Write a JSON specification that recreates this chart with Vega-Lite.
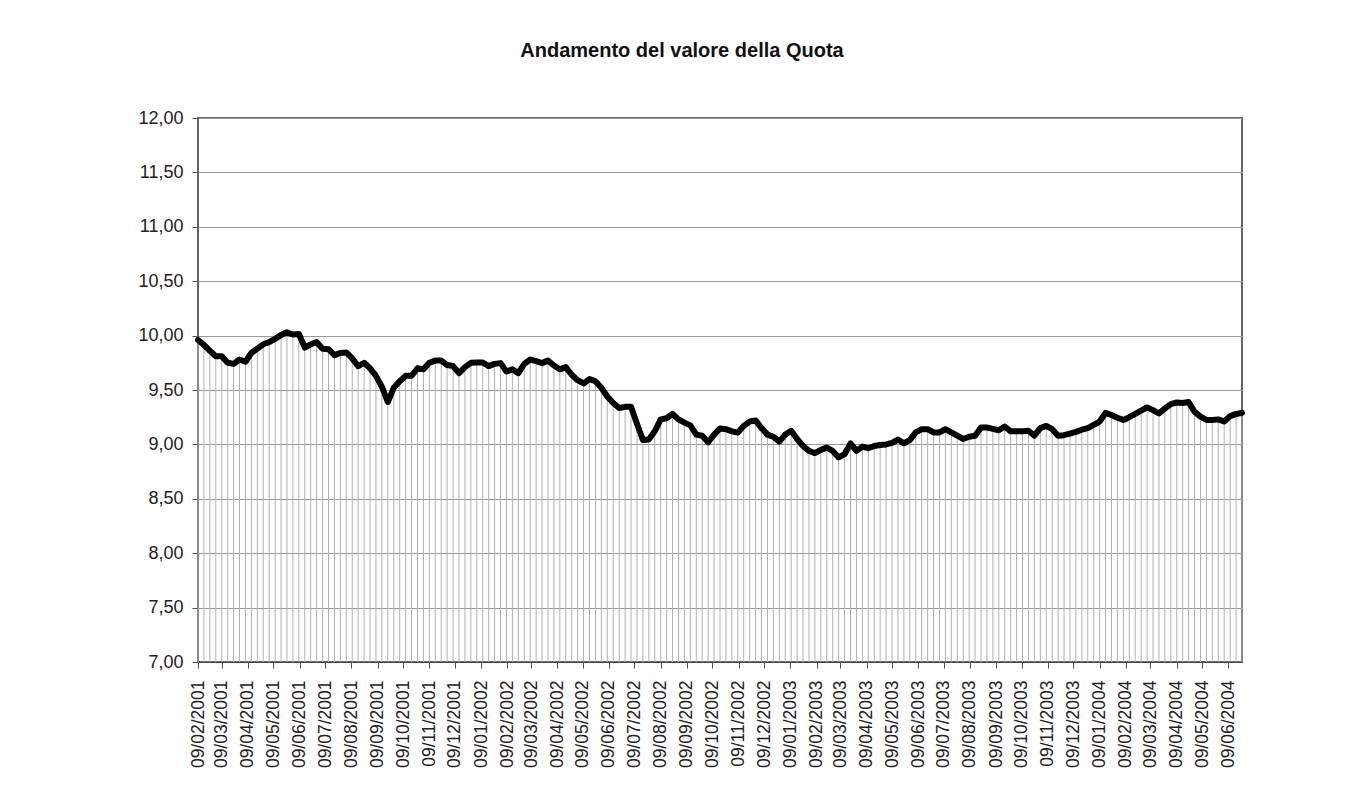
{
  "$schema": "https://vega.github.io/schema/vega-lite/v6.json",
  "autosize": {"type": "none"},
  "padding": {"left": 198, "top": 118, "right": 116, "bottom": 133},
  "width": 1044,
  "height": 544,
  "background": "white",
  "title": {
    "text": "Andamento del valore della Quota",
    "font": "Liberation Sans",
    "fontSize": 20,
    "fontWeight": "bold",
    "color": "#111",
    "anchor": "middle",
    "dx": -38,
    "offset": 48
  },
  "config": {
    "view": {"stroke": "#666", "strokeWidth": 2},
    "axis": {"labelFont": "Liberation Sans", "labelColor": "#222", "tickColor": "#555", "domainColor": "#444"}
  },
  "data": {
    "values": [
      {"date": "2001-02-09", "value": 9.96}, {"date": "2001-02-16", "value": 9.915}, {"date": "2001-02-23", "value": 9.86},
      {"date": "2001-03-02", "value": 9.81}, {"date": "2001-03-09", "value": 9.81}, {"date": "2001-03-16", "value": 9.75},
      {"date": "2001-03-23", "value": 9.74}, {"date": "2001-03-30", "value": 9.78}, {"date": "2001-04-06", "value": 9.76},
      {"date": "2001-04-13", "value": 9.84}, {"date": "2001-04-20", "value": 9.88}, {"date": "2001-04-27", "value": 9.92},
      {"date": "2001-05-04", "value": 9.94}, {"date": "2001-05-11", "value": 9.97}, {"date": "2001-05-18", "value": 10.005},
      {"date": "2001-05-25", "value": 10.03}, {"date": "2001-06-01", "value": 10.01}, {"date": "2001-06-08", "value": 10.015},
      {"date": "2001-06-15", "value": 9.89}, {"date": "2001-06-22", "value": 9.92}, {"date": "2001-06-29", "value": 9.94},
      {"date": "2001-07-06", "value": 9.88}, {"date": "2001-07-13", "value": 9.875}, {"date": "2001-07-20", "value": 9.82},
      {"date": "2001-07-27", "value": 9.84}, {"date": "2001-08-03", "value": 9.845}, {"date": "2001-08-10", "value": 9.79},
      {"date": "2001-08-17", "value": 9.72}, {"date": "2001-08-24", "value": 9.75}, {"date": "2001-08-31", "value": 9.70},
      {"date": "2001-09-07", "value": 9.63}, {"date": "2001-09-14", "value": 9.53}, {"date": "2001-09-21", "value": 9.39},
      {"date": "2001-09-28", "value": 9.52}, {"date": "2001-10-05", "value": 9.58}, {"date": "2001-10-12", "value": 9.63},
      {"date": "2001-10-19", "value": 9.63}, {"date": "2001-10-26", "value": 9.70}, {"date": "2001-11-02", "value": 9.69},
      {"date": "2001-11-09", "value": 9.75}, {"date": "2001-11-16", "value": 9.77}, {"date": "2001-11-23", "value": 9.77},
      {"date": "2001-11-30", "value": 9.73}, {"date": "2001-12-07", "value": 9.72}, {"date": "2001-12-14", "value": 9.655},
      {"date": "2001-12-21", "value": 9.71}, {"date": "2001-12-28", "value": 9.75},
      {"date": "2002-01-04", "value": 9.753}, {"date": "2002-01-11", "value": 9.753}, {"date": "2002-01-18", "value": 9.72},
      {"date": "2002-01-25", "value": 9.74}, {"date": "2002-02-01", "value": 9.747}, {"date": "2002-02-08", "value": 9.67},
      {"date": "2002-02-15", "value": 9.69}, {"date": "2002-02-22", "value": 9.655}, {"date": "2002-03-01", "value": 9.74},
      {"date": "2002-03-08", "value": 9.78}, {"date": "2002-03-15", "value": 9.765}, {"date": "2002-03-22", "value": 9.747},
      {"date": "2002-03-29", "value": 9.77}, {"date": "2002-04-05", "value": 9.725}, {"date": "2002-04-12", "value": 9.69},
      {"date": "2002-04-19", "value": 9.71}, {"date": "2002-04-26", "value": 9.64}, {"date": "2002-05-03", "value": 9.59},
      {"date": "2002-05-10", "value": 9.56}, {"date": "2002-05-17", "value": 9.60}, {"date": "2002-05-24", "value": 9.58},
      {"date": "2002-05-31", "value": 9.52}, {"date": "2002-06-07", "value": 9.44}, {"date": "2002-06-14", "value": 9.38},
      {"date": "2002-06-21", "value": 9.335}, {"date": "2002-06-28", "value": 9.345}, {"date": "2002-07-05", "value": 9.345},
      {"date": "2002-07-12", "value": 9.19}, {"date": "2002-07-19", "value": 9.04}, {"date": "2002-07-26", "value": 9.045},
      {"date": "2002-08-02", "value": 9.12}, {"date": "2002-08-09", "value": 9.23}, {"date": "2002-08-16", "value": 9.24},
      {"date": "2002-08-23", "value": 9.28}, {"date": "2002-08-30", "value": 9.23}, {"date": "2002-09-06", "value": 9.20},
      {"date": "2002-09-13", "value": 9.175}, {"date": "2002-09-20", "value": 9.09}, {"date": "2002-09-27", "value": 9.08},
      {"date": "2002-10-04", "value": 9.02}, {"date": "2002-10-11", "value": 9.09}, {"date": "2002-10-18", "value": 9.147},
      {"date": "2002-10-25", "value": 9.14}, {"date": "2002-11-01", "value": 9.12}, {"date": "2002-11-08", "value": 9.11},
      {"date": "2002-11-15", "value": 9.17}, {"date": "2002-11-22", "value": 9.21}, {"date": "2002-11-29", "value": 9.22},
      {"date": "2002-12-06", "value": 9.15}, {"date": "2002-12-13", "value": 9.09}, {"date": "2002-12-20", "value": 9.07},
      {"date": "2002-12-27", "value": 9.025},
      {"date": "2003-01-03", "value": 9.09}, {"date": "2003-01-10", "value": 9.125}, {"date": "2003-01-17", "value": 9.05},
      {"date": "2003-01-24", "value": 8.985}, {"date": "2003-01-31", "value": 8.94}, {"date": "2003-02-07", "value": 8.92},
      {"date": "2003-02-14", "value": 8.95}, {"date": "2003-02-21", "value": 8.97}, {"date": "2003-02-28", "value": 8.94},
      {"date": "2003-03-07", "value": 8.88}, {"date": "2003-03-14", "value": 8.91}, {"date": "2003-03-21", "value": 9.01},
      {"date": "2003-03-28", "value": 8.94}, {"date": "2003-04-04", "value": 8.98}, {"date": "2003-04-11", "value": 8.965},
      {"date": "2003-04-18", "value": 8.985}, {"date": "2003-04-25", "value": 8.995}, {"date": "2003-05-02", "value": 9.0},
      {"date": "2003-05-09", "value": 9.015}, {"date": "2003-05-16", "value": 9.045}, {"date": "2003-05-23", "value": 9.01},
      {"date": "2003-05-30", "value": 9.04}, {"date": "2003-06-06", "value": 9.11}, {"date": "2003-06-13", "value": 9.14},
      {"date": "2003-06-20", "value": 9.14}, {"date": "2003-06-27", "value": 9.11}, {"date": "2003-07-04", "value": 9.11},
      {"date": "2003-07-11", "value": 9.14}, {"date": "2003-07-18", "value": 9.11}, {"date": "2003-07-25", "value": 9.08},
      {"date": "2003-08-01", "value": 9.05}, {"date": "2003-08-08", "value": 9.07}, {"date": "2003-08-15", "value": 9.08},
      {"date": "2003-08-22", "value": 9.155}, {"date": "2003-08-29", "value": 9.155}, {"date": "2003-09-05", "value": 9.143},
      {"date": "2003-09-12", "value": 9.13}, {"date": "2003-09-19", "value": 9.165}, {"date": "2003-09-26", "value": 9.12},
      {"date": "2003-10-03", "value": 9.12}, {"date": "2003-10-10", "value": 9.12}, {"date": "2003-10-17", "value": 9.125},
      {"date": "2003-10-24", "value": 9.08}, {"date": "2003-10-31", "value": 9.15}, {"date": "2003-11-07", "value": 9.17},
      {"date": "2003-11-14", "value": 9.14}, {"date": "2003-11-21", "value": 9.08}, {"date": "2003-11-28", "value": 9.085},
      {"date": "2003-12-05", "value": 9.10}, {"date": "2003-12-12", "value": 9.115}, {"date": "2003-12-19", "value": 9.135},
      {"date": "2003-12-26", "value": 9.15},
      {"date": "2004-01-02", "value": 9.18}, {"date": "2004-01-09", "value": 9.21}, {"date": "2004-01-16", "value": 9.29},
      {"date": "2004-01-23", "value": 9.27}, {"date": "2004-01-30", "value": 9.245}, {"date": "2004-02-06", "value": 9.225},
      {"date": "2004-02-13", "value": 9.25}, {"date": "2004-02-20", "value": 9.28}, {"date": "2004-02-27", "value": 9.31},
      {"date": "2004-03-05", "value": 9.34}, {"date": "2004-03-12", "value": 9.315}, {"date": "2004-03-19", "value": 9.285},
      {"date": "2004-03-26", "value": 9.33}, {"date": "2004-04-02", "value": 9.37}, {"date": "2004-04-09", "value": 9.385},
      {"date": "2004-04-16", "value": 9.38}, {"date": "2004-04-23", "value": 9.39}, {"date": "2004-04-30", "value": 9.30},
      {"date": "2004-05-07", "value": 9.255}, {"date": "2004-05-14", "value": 9.225}, {"date": "2004-05-21", "value": 9.225},
      {"date": "2004-05-28", "value": 9.23}, {"date": "2004-06-04", "value": 9.21}, {"date": "2004-06-11", "value": 9.26},
      {"date": "2004-06-18", "value": 9.28}, {"date": "2004-06-25", "value": 9.29}
    ]
  },
  "encoding": {
    "x": {
      "field": "date",
      "type": "temporal",
      "scale": {
        "type": "utc",
        "domain": [
          {"year": 2001, "month": 2, "date": 9, "utc": true},
          {"year": 2004, "month": 6, "date": 25, "utc": true}
        ],
        "nice": false
      },
      "axis": {
        "title": null,
        "grid": false,
        "format": "%d/%m/%Y",
        "labelAngle": -90,
        "labelFontSize": 17.5,
        "labelPadding": 12,
        "tickSize": 6,
        "labelOverlap": false,
        "labelFlush": false,
        "values": [
          {"year": 2001, "month": 2, "date": 9, "utc": true}, {"year": 2001, "month": 3, "date": 9, "utc": true},
          {"year": 2001, "month": 4, "date": 9, "utc": true}, {"year": 2001, "month": 5, "date": 9, "utc": true},
          {"year": 2001, "month": 6, "date": 9, "utc": true}, {"year": 2001, "month": 7, "date": 9, "utc": true},
          {"year": 2001, "month": 8, "date": 9, "utc": true}, {"year": 2001, "month": 9, "date": 9, "utc": true},
          {"year": 2001, "month": 10, "date": 9, "utc": true}, {"year": 2001, "month": 11, "date": 9, "utc": true},
          {"year": 2001, "month": 12, "date": 9, "utc": true}, {"year": 2002, "month": 1, "date": 9, "utc": true},
          {"year": 2002, "month": 2, "date": 9, "utc": true}, {"year": 2002, "month": 3, "date": 9, "utc": true},
          {"year": 2002, "month": 4, "date": 9, "utc": true}, {"year": 2002, "month": 5, "date": 9, "utc": true},
          {"year": 2002, "month": 6, "date": 9, "utc": true}, {"year": 2002, "month": 7, "date": 9, "utc": true},
          {"year": 2002, "month": 8, "date": 9, "utc": true}, {"year": 2002, "month": 9, "date": 9, "utc": true},
          {"year": 2002, "month": 10, "date": 9, "utc": true}, {"year": 2002, "month": 11, "date": 9, "utc": true},
          {"year": 2002, "month": 12, "date": 9, "utc": true}, {"year": 2003, "month": 1, "date": 9, "utc": true},
          {"year": 2003, "month": 2, "date": 9, "utc": true}, {"year": 2003, "month": 3, "date": 9, "utc": true},
          {"year": 2003, "month": 4, "date": 9, "utc": true}, {"year": 2003, "month": 5, "date": 9, "utc": true},
          {"year": 2003, "month": 6, "date": 9, "utc": true}, {"year": 2003, "month": 7, "date": 9, "utc": true},
          {"year": 2003, "month": 8, "date": 9, "utc": true}, {"year": 2003, "month": 9, "date": 9, "utc": true},
          {"year": 2003, "month": 10, "date": 9, "utc": true}, {"year": 2003, "month": 11, "date": 9, "utc": true},
          {"year": 2003, "month": 12, "date": 9, "utc": true}, {"year": 2004, "month": 1, "date": 9, "utc": true},
          {"year": 2004, "month": 2, "date": 9, "utc": true}, {"year": 2004, "month": 3, "date": 9, "utc": true},
          {"year": 2004, "month": 4, "date": 9, "utc": true}, {"year": 2004, "month": 5, "date": 9, "utc": true},
          {"year": 2004, "month": 6, "date": 9, "utc": true}
        ]
      }
    },
    "y": {
      "field": "value",
      "type": "quantitative",
      "scale": {"domain": [7, 12], "nice": false, "zero": false},
      "axis": {
        "title": null,
        "values": [7, 7.5, 8, 8.5, 9, 9.5, 10, 10.5, 11, 11.5, 12],
        "labelExpr": "replace(format(datum.value, '.2f'), '.', ',')",
        "labelFontSize": 18,
        "labelPadding": 9,
        "tickSize": 6,
        "gridColor": "#9a9a9a",
        "gridWidth": 1,
        "domain": false
      }
    }
  },
  "layer": [
    {
      "mark": {"type": "rule", "color": "#b0b0b0", "strokeWidth": 1},
      "encoding": {"y2": {"datum": 7}}
    },
    {
      "mark": {"type": "line", "color": "#000", "strokeWidth": 6, "strokeJoin": "round", "strokeCap": "round", "clip": false}
    }
  ]
}
